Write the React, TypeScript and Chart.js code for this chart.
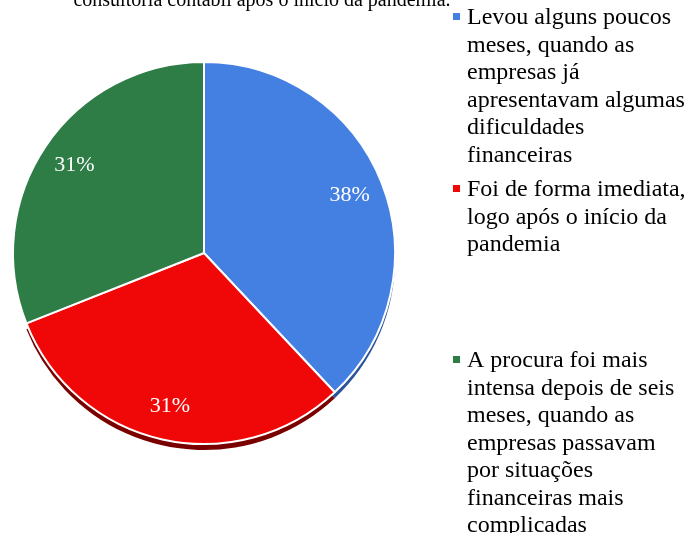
import React, { useEffect, useRef } from "react";
import { Chart, registerables } from "chart.js";

Chart.register(...registerables);

const titleText = "consultoria contábil após o início da pandemia.";

const categories: string[][] = [
  ["Levou alguns poucos", "meses, quando as", "empresas já", "apresentavam algumas", "dificuldades", "financeiras"],
  ["Foi de forma imediata,", "logo após o início da", "pandemia"],
  [
    "A procura foi mais",
    "intensa depois de seis",
    "meses, quando as",
    "empresas passavam",
    "por situações",
    "financeiras mais",
    "complicadas",
  ],
];

const values = [38, 31, 31];

const sliceColors = ["#4480e2", "#f00808", "#2e7d46"];
const shadowColors = ["#2b5499", "#7a0000", "rgba(0,0,0,0)"];

const FONT = "'Liberation Serif', 'Times New Roman', serif";

export default function App() {
  const ref = useRef<HTMLCanvasElement>(null);

  useEffect(() => {
    document.body.style.margin = "0";
    const canvas = ref.current;
    if (!canvas) return;

    const shadowPlugin = {
      id: "pieShadow",
      beforeDatasetsDraw(chart: any) {
        const ctx = chart.ctx;
        const meta = chart.getDatasetMeta(0);
        ctx.save();
        meta.data.forEach((arc: any, i: number) => {
          const p = arc.getProps(["x", "y", "startAngle", "endAngle", "outerRadius"], true);
          ctx.beginPath();
          ctx.moveTo(p.x, p.y + 6);
          ctx.arc(p.x, p.y + 6, p.outerRadius, p.startAngle, p.endAngle);
          ctx.closePath();
          ctx.fillStyle = shadowColors[i];
          ctx.fill();
        });
        ctx.restore();
      },
    };

    const labelPlugin = {
      id: "sliceLabels",
      afterDatasetsDraw(chart: any) {
        const ctx = chart.ctx;
        const meta = chart.getDatasetMeta(0);
        const data = chart.data.datasets[0].data as number[];
        const total = data.reduce((a, b) => a + b, 0);
        ctx.save();
        ctx.font = `22px ${FONT}`;
        ctx.fillStyle = "#ffffff";
        ctx.textAlign = "center";
        ctx.textBaseline = "middle";
        meta.data.forEach((arc: any, i: number) => {
          const p = arc.getProps(["x", "y", "startAngle", "endAngle", "outerRadius"], true);
          const mid = (p.startAngle + p.endAngle) / 2;
          const r = p.outerRadius * 0.82;
          const pct = Math.round((data[i] / total) * 100);
          ctx.fillText(`${pct}%`, p.x + Math.cos(mid) * r, p.y + Math.sin(mid) * r);
        });
        ctx.restore();
      },
    };

    const legendPlugin = {
      id: "sideLegend",
      afterDraw(chart: any) {
        const ctx = chart.ctx;
        ctx.save();
        ctx.fillStyle = "#000000";
        ctx.textBaseline = "alphabetic";
        // Title (clipped at top)
        ctx.font = `20px ${FONT}`;
        ctx.textAlign = "center";
        ctx.fillText(titleText, 262, 6);
        // Legend
        ctx.font = `24px ${FONT}`;
        ctx.textAlign = "left";
        const starts = [24, 196, 367];
        const lineH = 27.5;
        const labels = chart.data.labels as string[][];
        labels.forEach((lines, i) => {
          const y0 = starts[i];
          ctx.fillStyle = sliceColors[i];
          ctx.fillRect(453, y0 - 11, 7, 7);
          ctx.fillStyle = "#000000";
          lines.forEach((line, k) => {
            ctx.fillText(line, 467, y0 + k * lineH);
          });
        });
        ctx.restore();
      },
    };

    const chart = new Chart(canvas, {
      type: "pie",
      data: {
        labels: categories,
        datasets: [
          {
            data: values,
            backgroundColor: sliceColors,
            borderColor: "#ffffff",
            borderWidth: 2,
          },
        ],
      },
      options: {
        responsive: false,
        animation: false,
        layout: { padding: { left: 12, right: 296, top: 61, bottom: 88 } },
        plugins: {
          legend: { display: false },
          tooltip: { enabled: false },
          title: { display: false },
        },
      },
      plugins: [shadowPlugin, labelPlugin, legendPlugin],
    });

    return () => chart.destroy();
  }, []);

  return <canvas ref={ref} width={692} height={533} style={{ display: "block" }} />;
}
